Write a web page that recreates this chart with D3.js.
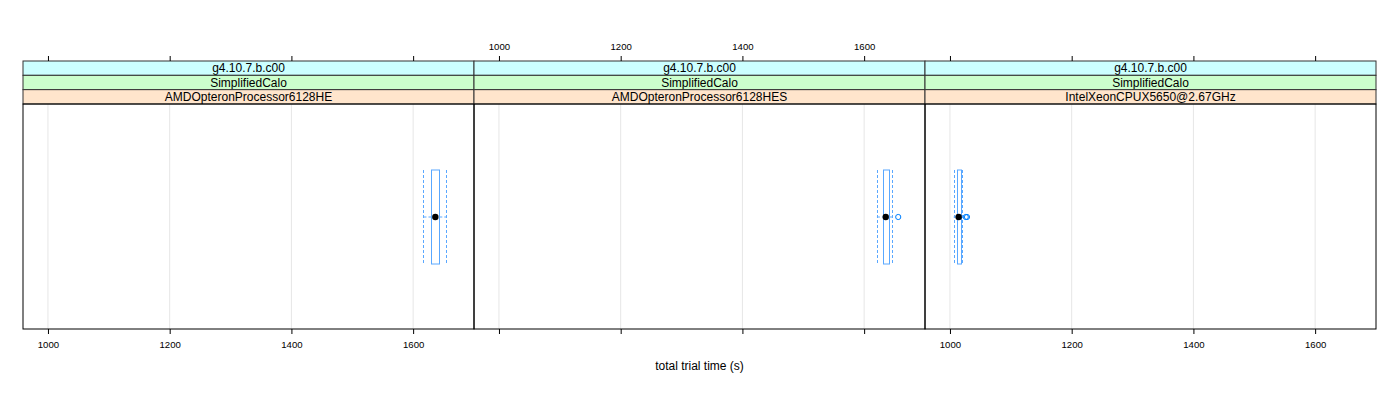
<!DOCTYPE html>
<html><head><meta charset="utf-8">
<script src="https://cdn.jsdelivr.net/npm/d3@7"></script>
<style>body{margin:0;background:#fff}svg{display:block}text{font-family:"Liberation Sans",Arial,Helvetica,sans-serif}</style>
</head><body>
<svg id="c" width="1400" height="400"></svg>
<script>
const stripVersion = ["g4.10.7.b.c00","g4.10.7.b.c00","g4.10.7.b.c00"];
const stripTest = ["SimplifiedCalo","SimplifiedCalo","SimplifiedCalo"];
const stripCpu = ["AMDOpteronProcessor6128HE","AMDOpteronProcessor6128HES","IntelXeonCPUX5650@2.67GHz"];
// [lower whisker, Q1, median, Q3, upper whisker]
const boxStats = [
  [1617, 1630, 1636.5, 1643, 1654],
  [1621, 1631.5, 1635.5, 1641, 1646],
  [1006, 1012, 1014.3, 1018, 1020]
];
const outliers = [[], [1656], [1026, 1028]];
const tickValues = [1000, 1200, 1400, 1600];
const xDomain = [959, 1700];

const svg = d3.select("#c");
const panelW = 451, left0 = 23;
const stripTop = 61, stripH = 14.33, panelTop = 104, panelBot = 329;
const boxColor = "#0080ff";
const boxLine = "#5aa8ff";
const stripColors = ["#ccffff","#ccffcc","#ffe5cc"];
const boxTop = 170, boxBot = 264, yc = (boxTop + boxBot) / 2;

for (let p = 0; p < 3; p++) {
  const x0 = left0 + p * panelW;
  const x = d3.scaleLinear().domain(xDomain).range([x0, x0 + panelW]);
  const g = svg.append("g");
  g.selectAll("line.grid").data(tickValues).join("line")
    .attr("x1", d => x(d)).attr("x2", d => x(d))
    .attr("y1", panelTop).attr("y2", panelBot)
    .attr("stroke", "#e6e6e6").attr("stroke-width", 1);
  const texts = [stripVersion[p], stripTest[p], stripCpu[p]];
  texts.forEach((t, i) => {
    const y = stripTop + i * stripH;
    g.append("rect").attr("x", x0).attr("y", y).attr("width", panelW).attr("height", stripH)
      .attr("fill", stripColors[i]).attr("stroke", "#333").attr("stroke-width", 1);
    g.append("text").attr("x", x0 + panelW / 2).attr("y", y + stripH / 2 + 4.2)
      .attr("text-anchor", "middle").attr("font-size", 12).attr("fill", "#000").text(t);
  });
  g.append("rect").attr("x", x0).attr("y", panelTop).attr("width", panelW).attr("height", panelBot - panelTop)
    .attr("fill", "none").attr("stroke", "#000").attr("stroke-width", 1);

  const bottom = d3.axisBottom(x).tickValues(tickValues).tickSize(5).tickPadding(7)
    .tickFormat(p === 1 ? "" : d3.format("d"));
  const ga = g.append("g").attr("transform", `translate(0,${panelBot})`).call(bottom);
  ga.select(".domain").remove();
  ga.selectAll("text").attr("font-size", 9.6).attr("font-family", '"Liberation Sans",Arial,sans-serif');
  ga.selectAll("line").attr("stroke", "#000");
  const top = d3.axisTop(x).tickValues(tickValues).tickSize(5).tickPadding(6)
    .tickFormat(p === 1 ? d3.format("d") : "");
  const gt = g.append("g").attr("transform", `translate(0,${stripTop})`).call(top);
  gt.select(".domain").remove();
  gt.selectAll("text").attr("font-size", 9.6).attr("font-family", '"Liberation Sans",Arial,sans-serif');
  gt.selectAll("line").attr("stroke", "#000");

  const s = boxStats[p];
  const bg = g.append("g");
  bg.selectAll("line.wh").data([[s[0], s[1]], [s[3], s[4]]]).join("line")
    .attr("x1", d => x(d[0])).attr("x2", d => x(d[1])).attr("y1", yc).attr("y2", yc)
    .attr("stroke", boxLine).attr("stroke-dasharray", "3,2");
  bg.selectAll("line.we").data([s[0], s[4]]).join("line")
    .attr("x1", d => Math.round(x(d)) + 0.5).attr("x2", d => Math.round(x(d)) + 0.5).attr("y1", boxTop).attr("y2", boxBot)
    .attr("stroke", boxLine).attr("stroke-dasharray", "3,2");
  bg.append("rect").attr("x", Math.round(x(s[1])) + 0.5).attr("y", boxTop)
    .attr("width", Math.round(x(s[3]) - x(s[1]))).attr("height", boxBot - boxTop)
    .attr("fill", "none").attr("stroke", boxLine).attr("stroke-width", 1);
  bg.append("circle").attr("cx", x(s[2])).attr("cy", yc).attr("r", 3.2).attr("fill", "#000");
  bg.selectAll("circle.out").data(outliers[p]).join("circle")
    .attr("cx", d => x(d)).attr("cy", yc).attr("r", 2.6)
    .attr("fill", "none").attr("stroke", boxColor).attr("stroke-width", 1);
}
svg.append("text").attr("x", 699.5).attr("y", 370).attr("text-anchor", "middle")
  .attr("font-size", 12).attr("fill", "#000").text("total trial time (s)");
</script>
</body></html>
